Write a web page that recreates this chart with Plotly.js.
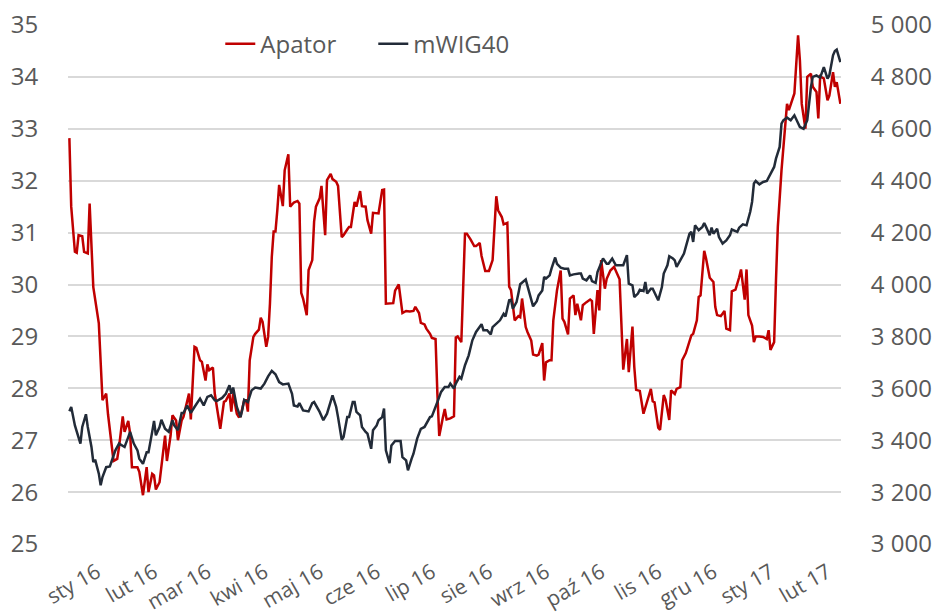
<!DOCTYPE html>
<html>
<head>
<meta charset="utf-8">
<script src="https://cdn.plot.ly/plotly-3.0.1.min.js"></script>
<style>html,body{margin:0;padding:0;background:#fff;}#chart{width:935px;height:614px;}</style>
</head>
<body>
<div id="chart"></div>
<script>
var seriesNames = ['Apator', 'mWIG40'];

var apatorDates = ['2015-12-17','2015-12-18','2015-12-20','2015-12-21','2015-12-22','2015-12-24','2015-12-25','2015-12-27','2015-12-28','2015-12-30',
'2016-01-02','2016-01-04','2016-01-06','2016-01-07','2016-01-10','2016-01-12','2016-01-13','2016-01-15','2016-01-16','2016-01-18','2016-01-19','2016-01-20','2016-01-23','2016-01-24','2016-01-26','2016-01-28','2016-01-29','2016-01-31',
'2016-02-01','2016-02-02','2016-02-04','2016-02-07','2016-02-08','2016-02-10','2016-02-11','2016-02-13','2016-02-14','2016-02-16','2016-02-17','2016-02-19','2016-02-20','2016-02-21','2016-02-23','2016-02-24','2016-02-26','2016-02-27','2016-02-29',
'2016-03-01','2016-03-02','2016-03-04','2016-03-05','2016-03-08','2016-03-10','2016-03-11','2016-03-13','2016-03-14','2016-03-15','2016-03-17','2016-03-18','2016-03-19','2016-03-21','2016-03-22','2016-03-23','2016-03-24','2016-03-26','2016-03-27','2016-03-29','2016-03-30','2016-03-31',
'2016-04-02','2016-04-03','2016-04-04','2016-04-05','2016-04-06','2016-04-07','2016-04-08','2016-04-09','2016-04-11','2016-04-12','2016-04-14','2016-04-15','2016-04-17','2016-04-19','2016-04-20','2016-04-21','2016-04-22','2016-04-24','2016-04-25','2016-04-27','2016-04-28','2016-04-29',
'2016-05-01','2016-05-02','2016-05-04','2016-05-05','2016-05-07','2016-05-08','2016-05-10','2016-05-11','2016-05-13','2016-05-14','2016-05-16','2016-05-17','2016-05-18','2016-05-20','2016-05-21','2016-05-23','2016-05-24','2016-05-26','2016-05-27','2016-05-29','2016-05-30',
'2016-06-01','2016-06-02','2016-06-04','2016-06-05','2016-06-06','2016-06-08','2016-06-10','2016-06-11','2016-06-13','2016-06-15','2016-06-17','2016-06-19','2016-06-21','2016-06-22','2016-06-24','2016-06-25','2016-06-27','2016-06-28','2016-06-30',
'2016-07-01','2016-07-03','2016-07-04','2016-07-05','2016-07-07','2016-07-08','2016-07-09','2016-07-11','2016-07-13','2016-07-14','2016-07-15','2016-07-17','2016-07-19','2016-07-20','2016-07-22','2016-07-24','2016-07-25','2016-07-27','2016-07-28','2016-07-30',
'2016-08-01','2016-08-03','2016-08-05','2016-08-06','2016-08-08','2016-08-09','2016-08-11','2016-08-12','2016-08-13','2016-08-15','2016-08-17','2016-08-18','2016-08-19','2016-08-21','2016-08-22','2016-08-24','2016-08-25','2016-08-27','2016-08-28','2016-08-30','2016-08-31',
'2016-09-01','2016-09-03','2016-09-04','2016-09-05','2016-09-07','2016-09-09','2016-09-10','2016-09-11','2016-09-13','2016-09-14','2016-09-16','2016-09-17','2016-09-18','2016-09-20','2016-09-21','2016-09-23','2016-09-25','2016-09-26','2016-09-27','2016-09-29','2016-09-30',
'2016-10-01','2016-10-03','2016-10-04','2016-10-06','2016-10-08','2016-10-09','2016-10-11','2016-10-12','2016-10-13','2016-10-15','2016-10-16','2016-10-18','2016-10-19','2016-10-20','2016-10-22','2016-10-24','2016-10-25','2016-10-28','2016-10-29','2016-10-30',
'2016-11-01','2016-11-02','2016-11-04','2016-11-05','2016-11-07','2016-11-08','2016-11-10','2016-11-11','2016-11-13','2016-11-14','2016-11-16','2016-11-17','2016-11-19','2016-11-20','2016-11-22','2016-11-23','2016-11-24','2016-11-26','2016-11-27','2016-11-29',
'2016-12-01','2016-12-02','2016-12-03','2016-12-05','2016-12-07','2016-12-08','2016-12-10','2016-12-11','2016-12-13','2016-12-15','2016-12-16','2016-12-18','2016-12-19','2016-12-20','2016-12-22','2016-12-23','2016-12-24','2016-12-26','2016-12-28','2016-12-30','2016-12-31',
'2017-01-01','2017-01-03','2017-01-04','2017-01-05','2017-01-07','2017-01-09','2017-01-10','2017-01-11','2017-01-13','2017-01-14','2017-01-16','2017-01-17','2017-01-18','2017-01-20','2017-01-21','2017-01-23','2017-01-24','2017-01-26','2017-01-27','2017-01-28','2017-01-30',
'2017-02-01','2017-02-02','2017-02-04','2017-02-05','2017-02-06','2017-02-08'];

var apatorValues = [32.82,31.5,30.63,30.61,30.95,30.93,30.63,30.6,31.56,29.95,
29.25,27.77,27.9,27.5,26.6,26.64,26.87,27.46,27.16,27.37,27.13,26.48,26.48,26.39,25.94,26.48,26.0,26.35,
26.32,26.05,26.19,27.09,26.6,27.09,27.48,27.38,27.0,27.38,27.45,27.74,27.9,27.4,28.8,28.78,28.54,28.51,28.15,
28.46,28.35,28.4,27.9,27.22,27.74,27.76,27.9,27.55,27.9,27.51,27.45,27.46,27.77,27.77,27.55,28.54,28.99,29.05,29.13,29.36,29.28,
28.8,28.99,29.63,30.53,31.02,31.02,31.43,31.92,31.51,32.2,32.51,31.5,31.58,31.61,31.56,29.84,29.73,29.41,30.28,30.47,31.21,31.5,
31.66,31.9,30.95,32.01,32.13,32.03,31.98,31.9,30.91,30.95,31.06,31.11,31.11,31.59,31.5,31.8,31.51,31.5,31.24,30.98,31.38,
31.37,31.37,31.82,31.83,29.63,29.63,29.64,29.88,30.0,29.45,29.49,29.48,29.49,29.57,29.45,29.26,29.23,29.15,29.05,
28.97,28.95,27.89,27.08,27.44,27.6,27.4,27.42,27.46,28.98,29.0,28.89,30.98,30.98,30.87,30.74,30.74,30.8,30.55,30.26,
30.26,30.47,31.7,31.43,31.3,31.16,31.19,29.96,29.89,29.31,29.39,29.37,29.73,29.18,29.08,28.92,28.65,28.63,28.65,28.87,28.15,
28.5,28.54,28.54,29.31,29.89,30.27,29.34,29.28,29.04,29.73,29.79,29.41,29.63,29.31,29.6,29.66,29.71,29.68,29.05,29.89,29.5,
30.47,29.92,30.11,30.27,30.34,30.27,30.1,29.24,28.36,28.95,28.31,29.19,28.41,27.97,27.95,27.51,27.64,27.99,27.75,27.73,
27.24,27.2,27.87,27.78,27.39,27.96,27.89,27.99,28.02,28.54,28.68,28.79,29.02,29.05,29.31,29.76,29.79,30.65,30.5,30.13,
30.05,29.57,29.41,29.39,29.49,29.15,29.12,29.87,29.9,30.14,30.29,29.71,30.29,29.41,29.21,28.89,29.0,29.0,28.99,28.95,29.12,
28.74,28.89,30.08,31.11,32.2,33.13,33.48,33.36,33.55,33.68,34.8,34.32,33.48,33.0,34.0,34.06,33.81,33.71,33.2,34.01,33.97,
33.55,33.64,34.09,33.81,33.9,33.48];

var mwigDates = ['2015-12-17','2015-12-18','2015-12-20','2015-12-23','2015-12-24','2015-12-26','2015-12-27','2015-12-29','2015-12-30','2015-12-31',
'2016-01-02','2016-01-03','2016-01-04','2016-01-06','2016-01-08','2016-01-09','2016-01-11','2016-01-13','2016-01-16','2016-01-18','2016-01-19','2016-01-21','2016-01-23','2016-01-24','2016-01-26','2016-01-28','2016-01-29','2016-01-31',
'2016-02-01','2016-02-02','2016-02-04','2016-02-05','2016-02-07','2016-02-09','2016-02-11','2016-02-12','2016-02-14','2016-02-16','2016-02-17','2016-02-19','2016-02-21','2016-02-23','2016-02-26','2016-02-28',
'2016-03-01','2016-03-03','2016-03-05','2016-03-06','2016-03-09','2016-03-11','2016-03-13','2016-03-14','2016-03-15','2016-03-17','2016-03-19','2016-03-20','2016-03-21','2016-03-23','2016-03-25','2016-03-27','2016-03-30',
'2016-04-01','2016-04-03','2016-04-05','2016-04-07','2016-04-09','2016-04-11','2016-04-14','2016-04-16','2016-04-17','2016-04-19','2016-04-20','2016-04-22','2016-04-25','2016-04-27','2016-04-28',
'2016-05-01','2016-05-03','2016-05-05','2016-05-08','2016-05-10','2016-05-11','2016-05-13','2016-05-14','2016-05-16','2016-05-17','2016-05-19','2016-05-20','2016-05-21','2016-05-23','2016-05-24','2016-05-26','2016-05-27','2016-05-29','2016-05-30',
'2016-06-01','2016-06-02','2016-06-04','2016-06-05','2016-06-06','2016-06-08','2016-06-09','2016-06-11','2016-06-14','2016-06-15','2016-06-17','2016-06-18','2016-06-20','2016-06-21','2016-06-23','2016-06-25','2016-06-27','2016-06-28','2016-06-30',
'2016-07-01','2016-07-02','2016-07-04','2016-07-06','2016-07-08','2016-07-10','2016-07-11','2016-07-13','2016-07-14','2016-07-16','2016-07-17','2016-07-19','2016-07-21','2016-07-23','2016-07-25','2016-07-28','2016-07-29','2016-07-31',
'2016-08-02','2016-08-03','2016-08-05','2016-08-07','2016-08-09','2016-08-10','2016-08-12','2016-08-13','2016-08-14','2016-08-16','2016-08-17','2016-08-18','2016-08-21','2016-08-22','2016-08-24','2016-08-25','2016-08-27','2016-08-28','2016-08-30','2016-08-31',
'2016-09-01','2016-09-03','2016-09-04','2016-09-06','2016-09-07','2016-09-09','2016-09-11','2016-09-13','2016-09-14','2016-09-16','2016-09-19','2016-09-20','2016-09-21','2016-09-23','2016-09-25','2016-09-26','2016-09-28','2016-09-29',
'2016-10-02','2016-10-04','2016-10-05','2016-10-07','2016-10-09','2016-10-10','2016-10-13','2016-10-15','2016-10-16','2016-10-18','2016-10-19','2016-10-21','2016-10-22','2016-10-24','2016-10-25','2016-10-26','2016-10-28','2016-10-29','2016-10-31',
'2016-11-01','2016-11-03','2016-11-04','2016-11-06','2016-11-07','2016-11-09','2016-11-10','2016-11-11','2016-11-13','2016-11-15','2016-11-16','2016-11-18','2016-11-19','2016-11-20','2016-11-21','2016-11-23','2016-11-25','2016-11-26','2016-11-27','2016-11-29','2016-11-30',
'2016-12-01','2016-12-03','2016-12-04','2016-12-06','2016-12-08','2016-12-10','2016-12-11','2016-12-14','2016-12-15','2016-12-17','2016-12-19','2016-12-21','2016-12-22','2016-12-23','2016-12-24','2016-12-26','2016-12-28','2016-12-30',
'2017-01-01','2017-01-03','2017-01-04','2017-01-06','2017-01-07','2017-01-08','2017-01-10','2017-01-12','2017-01-14','2017-01-16','2017-01-17','2017-01-19','2017-01-21','2017-01-23','2017-01-24','2017-01-26','2017-01-28','2017-01-30',
'2017-02-01','2017-02-02','2017-02-04','2017-02-05','2017-02-06','2017-02-08'];

var mwigValues = [3512,3528,3457,3387,3451,3500,3451,3374,3316,3325,
3271,3226,3258,3296,3299,3322,3361,3387,3374,3412,3432,3387,3361,3329,3309,3354,3354,3432,
3474,3419,3451,3479,3444,3432,3477,3457,3438,3505,3505,3534,3505,3528,3560,3534,
3567,3573,3554,3551,3563,3579,3612,3579,3603,3528,3489,3518,3556,3547,3592,3603,3599,
3618,3646,3667,3654,3624,3615,3618,3579,3534,3530,3543,3515,3511,3543,3547,
3509,3477,3502,3573,3528,3489,3402,3412,3489,3489,3547,3547,3509,3496,3451,3432,3425,3367,3438,
3457,3477,3489,3522,3361,3312,3380,3397,3397,3335,3322,3284,3329,3348,3406,3444,3451,3464,3489,
3492,3509,3547,3586,3605,3605,3618,3599,3618,3644,3637,3689,3727,3785,3817,3847,3824,3824,
3808,3836,3851,3862,3887,3877,3939,3941,3907,3932,3965,4001,4019,3993,3949,3916,3936,3958,3977,4029,
4023,4035,4061,4104,4080,4065,4061,4061,4035,4039,4042,4042,4023,4016,4035,4013,4006,4048,
4100,4080,4080,4100,4074,4074,4074,4113,4003,3997,3952,3965,3980,3975,4010,3965,3984,3984,3958,
3939,3990,4042,4074,4109,4100,4093,4068,4093,4119,4145,4196,4203,4164,4228,4209,4222,4237,4222,4190,4219,
4196,4215,4183,4158,4170,4190,4212,4203,4219,4232,4228,4280,4318,4389,4399,4386,4395,4399,
4427,4453,4485,4530,4620,4633,4643,4633,4652,4626,4607,4600,4633,4761,4800,4806,4797,4838,
4793,4806,4883,4900,4905,4857];

var tickDates = ['2016-01-01','2016-02-01','2016-03-01','2016-04-01','2016-05-01','2016-06-01','2016-07-01',
'2016-08-01','2016-09-01','2016-10-01','2016-11-01','2016-12-01','2017-01-01','2017-02-01'];
var tickLabels = ['sty 16','lut 16','mar 16','kwi 16','maj 16','cze 16','lip 16',
'sie 16','wrz 16','paź 16','lis 16','gru 16','sty 17','lut 17'];

var traces = [
  {x: apatorDates, y: apatorValues, name: seriesNames[0], type: 'scatter', mode: 'lines',
   line: {color: '#c00000', width: 2.5}, yaxis: 'y'},
  {x: mwigDates, y: mwigValues, name: seriesNames[1], type: 'scatter', mode: 'lines',
   line: {color: '#222b38', width: 2.5}, yaxis: 'y2'}
];

var layout = {
  width: 935, height: 614,
  margin: {l: 68, r: 94, t: 25, b: 70, pad: 0},
  paper_bgcolor: '#ffffff', plot_bgcolor: '#ffffff',
  font: {family: '"Open Sans", sans-serif', color: '#595959', size: 22},
  separators: ', ',
  showlegend: true,
  legend: {orientation: 'h', x: 0.197, y: 0.963, xanchor: 'left', yanchor: 'middle',
    entrywidth: 108, entrywidthmode: 'pixels',
    font: {size: 24, color: '#595959'}, bgcolor: 'rgba(0,0,0,0)', traceorder: 'normal'},
  xaxis: {type: 'date', range: ['2015-12-16 06:00', '2017-02-08 08:00'],
    tickmode: 'array', tickvals: tickDates, ticktext: tickLabels, tickangle: -30,
    showgrid: false, zeroline: false, showline: false,
    ticks: 'outside', ticklen: 7, tickcolor: 'rgba(0,0,0,0)',
    tickfont: {size: 21, color: '#595959'}},
  yaxis: {range: [25, 35], tick0: 25, dtick: 1, showgrid: true, gridcolor: '#d9d9d9', gridwidth: 2,
    zeroline: false, showline: false, ticks: 'outside', ticklen: 24, tickcolor: 'rgba(0,0,0,0)',
    tickfont: {size: 24, color: '#595959'}},
  yaxis2: {range: [3000, 5000], tick0: 3000, dtick: 200, overlaying: 'y', side: 'right',
    tickformat: ',d', showgrid: false, zeroline: false, showline: false,
    ticks: 'outside', ticklen: 24, tickcolor: 'rgba(0,0,0,0)',
    tickfont: {size: 24, color: '#595959'}}
};

Plotly.newPlot('chart', traces, layout, {displayModeBar: false, staticPlot: true});
</script>
</body>
</html>
